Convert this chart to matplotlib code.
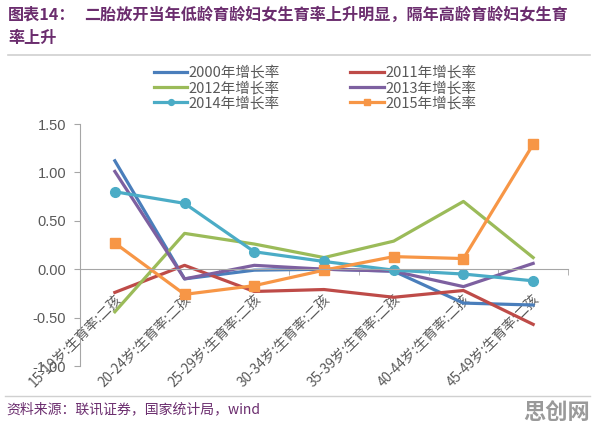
import matplotlib
matplotlib.use("Agg")
import matplotlib.pyplot as plt
from matplotlib.lines import Line2D

plt.rcParams['font.family'] = ['Noto Sans CJK SC', 'DejaVu Sans']

# categories (age groups)
categories = ["15-19岁:生育率:二孩", "20-24岁:生育率:二孩", "25-29岁:生育率:二孩",
              "30-34岁:生育率:二孩", "35-39岁:生育率:二孩", "40-44岁:生育率:二孩",
              "45-49岁:生育率:二孩"]

# growth rate series
rate_2000 = [1.12, -0.10, -0.01, 0.00, -0.02, -0.35, -0.37]
rate_2011 = [-0.24, 0.04, -0.23, -0.21, -0.29, -0.22, -0.57]
rate_2012 = [-0.44, 0.37, 0.26, 0.12, 0.29, 0.70, 0.12]
rate_2013 = [1.01, -0.10, 0.04, 0.00, -0.02, -0.18, 0.06]
rate_2014 = [0.80, 0.68, 0.18, 0.08, -0.01, -0.05, -0.12]
rate_2015 = [0.27, -0.26, -0.17, -0.01, 0.13, 0.11, 1.29]

yticks = [1.5, 1.0, 0.5, 0.0, -0.5, -1.0]

title_color = '#6B2D6E'
grey = '#595959'

fig = plt.figure(figsize=(5.96, 4.30), dpi=100)
ax = fig.add_axes([80 / 596, 1 - 366 / 430, 488 / 596, 242 / 430])

x = list(range(len(categories)))
lw = 2.3
ax.plot(x, rate_2000, color='#4A7EBB', lw=lw, label='2000年增长率')
ax.plot(x, rate_2011, color='#BE4B48', lw=lw, label='2011年增长率')
ax.plot(x, rate_2012, color='#9BBB59', lw=lw, label='2012年增长率')
ax.plot(x, rate_2013, color='#7D60A0', lw=lw, label='2013年增长率')
ax.plot(x, rate_2014, color='#4BACC6', lw=lw, marker='o', ms=7, label='2014年增长率')
ax.plot(x, rate_2015, color='#F79646', lw=lw, marker='s', ms=7, label='2015年增长率')

ax.set_xlim(-0.5, len(categories) - 0.5)
ax.set_ylim(-1.0, 1.5)
ax.set_yticks(yticks)
ax.set_yticklabels(['%.2f' % v for v in yticks], color=grey, fontsize=10.5,
                   family=['Liberation Sans', 'DejaVu Sans'])
ax.tick_params(axis='y', direction='out', length=4, color='#A6A6A6', pad=6)

# x axis sits on the zero line
ax.spines['bottom'].set_position(('data', 0))
ax.spines['bottom'].set_color('#A6A6A6')
ax.spines['left'].set_color('#A6A6A6')
ax.spines['top'].set_visible(False)
ax.spines['right'].set_visible(False)

ax.set_xticks(x)
ax.set_xticklabels(categories, rotation=45, ha='right', rotation_mode='anchor',
                   color=grey, fontsize=9.8)
ax.tick_params(axis='x', length=0, pad=17)
ax.set_xticks([i + 0.5 for i in range(-1, len(categories))], minor=True)
ax.tick_params(axis='x', which='minor', direction='out', length=4, color='#A6A6A6')

# legend in Excel order (2 columns)
h, l = ax.get_legend_handles_labels()
order = [0, 2, 4, 1, 3, 5]
leg = fig.legend([h[i] for i in order], [l[i] for i in order], ncol=2,
                 loc='center', bbox_to_anchor=(315 / 596, 1 - 88 / 430),
                 frameon=False, fontsize=10.5, handlelength=2.3, handletextpad=0.1,
                 columnspacing=4.8, labelspacing=0.08, markerscale=0.6)
for t in leg.get_texts():
    t.set_color(grey)

# title
fig.text(8 / 596, 1 - 15 / 430, "图表14：", fontsize=11.6, fontweight='bold',
         color=title_color, va='center', ha='left')
fig.text(84 / 596, 1 - 15 / 430, "二胎放开当年低龄育龄妇女生育率上升明显，隔年高龄育龄妇女生育",
         fontsize=11.6, fontweight='bold', color=title_color, va='center', ha='left')
fig.text(8 / 596, 1 - 38 / 430, "率上升", fontsize=11.6, fontweight='bold',
         color=title_color, va='center', ha='left')
fig.add_artist(Line2D([8 / 596, 590 / 596], [1 - 55 / 430, 1 - 55 / 430],
                      color='#D0D0D0', lw=1.2, transform=fig.transFigure))

# footer
fig.add_artist(Line2D([5 / 596, 590 / 596], [1 - 396 / 430, 1 - 396 / 430],
                      color='#D0D0D0', lw=1.0, transform=fig.transFigure))
fig.text(6 / 596, 1 - 409 / 430, "资料来源：联讯证券，国家统计局，wind", fontsize=10,
         style='italic', color=title_color, va='center', ha='left')
fig.text(590 / 596, 1 - 412 / 430, "思创网", fontsize=16, fontweight='bold',
         color='#9A9A9A', va='center', ha='right')

fig.savefig('out.png', dpi=100)
